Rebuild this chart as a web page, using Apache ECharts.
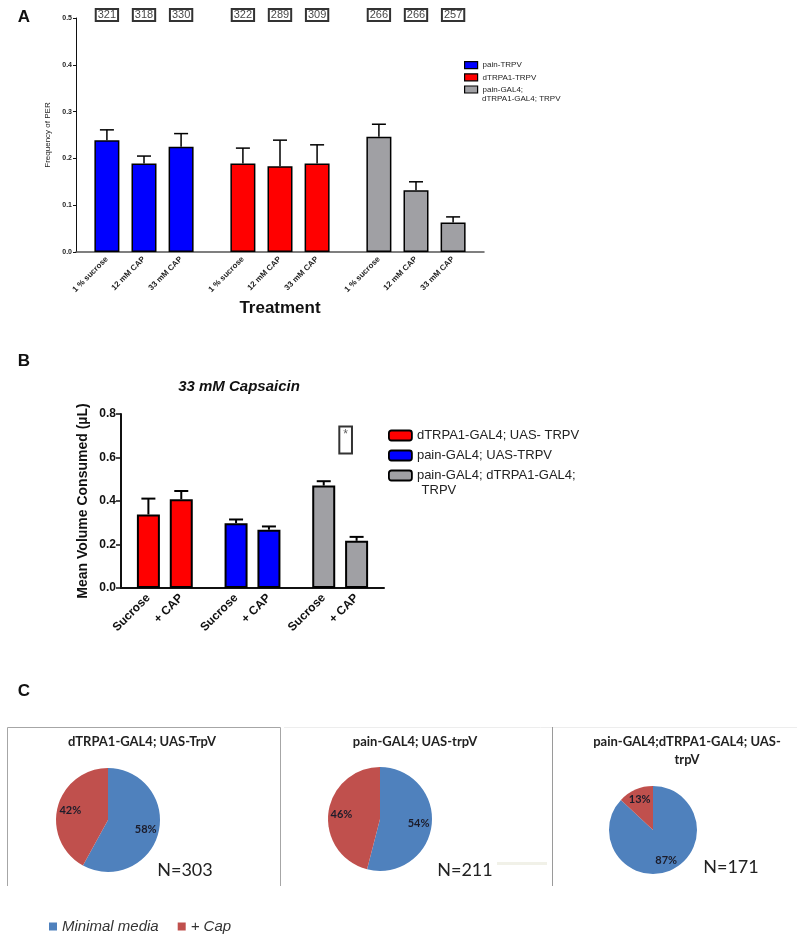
<!DOCTYPE html>
<html>
<head>
<meta charset="utf-8">
<script src="https://cdn.jsdelivr.net/npm/echarts@6/dist/echarts.min.js"></script>
<style>
html, body { margin: 0; padding: 0; background: #fff; }
#main { width: 797px; height: 936px; }
</style>
</head>
<body>
<div id="main"></div>
<script>
// A: frequency of PER per treatment
var perTreatments = ['1 % sucrose', '12 mM CAP', '33 mM CAP'];
var perGenotypes = ['pain-TRPV', 'dTRPA1-TRPV', 'pain-GAL4;\ndTRPA1-GAL4; TRPV'];
var perPain = [0.239, 0.189, 0.225];
var perPainUp = [0.261, 0.205, 0.253];
var perTrpa1 = [0.189, 0.183, 0.189];
var perTrpa1Up = [0.222, 0.239, 0.229];
var perDouble = [0.246, 0.132, 0.063];
var perDoubleUp = [0.273, 0.150, 0.075];
var perN = [321, 318, 330, 322, 289, 309, 266, 266, 257];
var perTicks = [0, 0.1, 0.2, 0.3, 0.4, 0.5];

// B: 33 mM capsaicin, mean volume consumed
var volFoods = ['Sucrose', '+ CAP'];
var volGenotypes = ['dTRPA1-GAL4; UAS- TRPV', 'pain-GAL4; UAS-TRPV', 'pain-GAL4; dTRPA1-GAL4;\n TRPV'];
var volTrpa1 = [0.338, 0.408];
var volTrpa1Up = [0.411, 0.446];
var volPain = [0.298, 0.268];
var volPainUp = [0.315, 0.283];
var volDouble = [0.471, 0.217];
var volDoubleUp = [0.491, 0.235];
var volTicks = [0, 0.2, 0.4, 0.6, 0.8];
var volSig = '*';

// C: choice pies
var pieNames = ['Minimal media', '+ Cap'];
var pieTitles = ['dTRPA1-GAL4; UAS-TrpV', 'pain-GAL4; UAS-trpV', 'pain-GAL4;dTRPA1-GAL4; UAS-\ntrpV'];
var pieMinimal = [58, 54, 87];
var pieCap = [42, 46, 13];
var pieN = [303, 211, 171];

var FONT = 'Liberation Sans';
var FONT_C = 'Lato';
var BLUE = '#0000ff', RED = '#ff0000', GRAY = '#a0a0a4';
var PIE_BLUE = '#4f81bd', PIE_RED = '#c0504d';

// category slots, empty ones keep the gaps between groups
function slotList(groups, perGroup, first, groupStep, barStep) {
	var out = [];
	for (var g = 0; g < groups; g++) {
		for (var b = 0; b < perGroup; b++) out.push(first + g * groupStep + b * barStep);
	}
	return out;
}
var slotsA = slotList(3, 3, 2, 11, 3);
var slotsB = slotList(3, 2, 2, 8, 3);

function categories(n, slots, names) {
	var cats = [];
	for (var i = 0; i < n; i++) cats.push('');
	slots.forEach(function(s, k) { cats[s] = names[k % names.length]; });
	return cats;
}
var catsA = categories(33, slotsA, perTreatments);
var catsB = categories(24, slotsB, volFoods);

function onSlot(slots) {
	return function(index) { return slots.indexOf(index) >= 0; };
}

function bars(name, color, values, slots, group, xi, width, border) {
	return {
		type: 'bar', name: name, xAxisIndex: xi, yAxisIndex: xi,
		barWidth: width, barGap: '-100%', z: 2,
		itemStyle: { color: color, borderColor: '#000', borderWidth: border },
		data: values.map(function(v, k) { return [slots[group * values.length + k], v]; })
	};
}

function errors(means, ups, slots, xi, lw, half) {
	var rows = [];
	means.forEach(function(m, k) { rows.push([slots[k], m, ups[k]]); });
	return {
		type: 'custom', xAxisIndex: xi, yAxisIndex: xi, z: 3, clip: false, silent: true,
		encode: { x: 0, y: [1, 2] },
		renderItem: function(params, api) {
			var base = api.coord([api.value(0), api.value(1)]);
			var top = api.coord([api.value(0), api.value(2)]);
			var st = { stroke: '#000', lineWidth: lw };
			return {
				type: 'group', children: [
					{ type: 'line', shape: { x1: base[0], y1: base[1], x2: top[0], y2: top[1] }, style: st },
					{ type: 'line', shape: { x1: top[0] - half, y1: top[1], x2: top[0] + half, y2: top[1] }, style: st }
				]
			};
		},
		data: rows
	};
}

// legend shows the first line; the wrapped rest sits under it like in the figure
function firstLine(name) { return name.split('\n')[0]; }

var myChart = echarts.init(document.getElementById('main'));

var pieCenters = [[108, 820], [380, 819], [653, 830]];
var pieRadius = [52, 52, 44];
var pieSeries = [], pieLabels = [];
pieMinimal.forEach(function(v, i) {
	var data = [
		{ name: pieNames[0], value: v, itemStyle: { color: PIE_BLUE } },
		{ name: pieNames[1], value: pieCap[i], itemStyle: { color: PIE_RED } }
	];
	pieSeries.push({
		type: 'pie', center: pieCenters[i], radius: pieRadius[i], startAngle: 90, clockwise: true,
		silent: true, label: { show: false }, labelLine: { show: false },
		itemStyle: { borderWidth: 0 }, data: data
	});
	pieLabels.push({
		type: 'pie', center: pieCenters[i], radius: [pieRadius[i] * 0.38, pieRadius[i]], startAngle: 90,
		silent: true, labelLine: { show: false },
		itemStyle: { color: 'rgba(0,0,0,0)', borderWidth: 0 },
		label: {
			show: true, position: 'inside', fontFamily: FONT_C, fontSize: 11, fontWeight: 'bold', color: '#1c1c2a',
			formatter: function(p) { return p.value + '%'; }
		},
		data: data.map(function(d) { return { name: d.name, value: d.value }; })
	});
});

var graphics = [
	{ type: 'text', x: 24, y: 17, style: { text: 'A', font: 'bold 17px "Liberation Sans"', fill: '#111', align: 'center', verticalAlign: 'middle' } },
	{ type: 'text', x: 24, y: 361, style: { text: 'B', font: 'bold 17px "Liberation Sans"', fill: '#111', align: 'center', verticalAlign: 'middle' } },
	{ type: 'text', x: 24, y: 691, style: { text: 'C', font: 'bold 17px "Liberation Sans"', fill: '#111', align: 'center', verticalAlign: 'middle' } },
	{ type: 'text', x: 239, y: 387, style: { text: '33 mM Capsaicin', font: 'italic bold 15px "Liberation Sans"', fill: '#111', align: 'center', verticalAlign: 'middle' } },
	{ type: 'text', x: 482, y: 99, style: { text: perGenotypes[2].split('\n')[1], font: '8px "Liberation Sans"', fill: '#222', verticalAlign: 'middle' } },
	{ type: 'text', x: 418, y: 490, style: { text: volGenotypes[2].split('\n')[1], font: '13px "Liberation Sans"', fill: '#222', verticalAlign: 'middle' } },
	// boxes round the pies
	{ type: 'polyline', shape: { points: [[7.5, 886], [7.5, 727.5], [280.5, 727.5], [280.5, 886]] }, style: { stroke: '#a6a6a6', lineWidth: 1, fill: null } },
	{ type: 'line', shape: { x1: 284, y1: 727.5, x2: 797, y2: 727.5 }, style: { stroke: '#ededed', lineWidth: 1 } },
	{ type: 'line', shape: { x1: 552.5, y1: 727, x2: 552.5, y2: 886 }, style: { stroke: '#9a9a9a', lineWidth: 1 } },
	{ type: 'rect', shape: { x: 497, y: 862, width: 50, height: 3 }, style: { fill: '#f1f1e8' } }
];
var titleX = [142, 415, 687], titleY = [742, 742, 751];
var nX = [185, 465, 731], nY = [870, 870, 867];
pieTitles.forEach(function(t, i) {
	graphics.push({ type: 'text', x: titleX[i], y: titleY[i], style: { text: t, font: 'bold 13px Lato', lineHeight: 18, fill: '#222', align: 'center', verticalAlign: 'middle' } });
	graphics.push({ type: 'text', x: nX[i], y: nY[i], style: { text: 'N=' + pieN[i], font: '18px Lato', fill: '#222', align: 'center', verticalAlign: 'middle' } });
});

var option = {
	animation: false,
	textStyle: { fontFamily: FONT, color: '#111' },
	grid: [
		{ left: 76, top: 18, width: 408, height: 234, outerBoundsMode: 'none' },
		{ left: 121, top: 414, width: 263, height: 174, outerBoundsMode: 'none' }
	],
	legend: [
		{
			data: perGenotypes, orient: 'vertical', left: 464, top: 61, padding: 0, selectedMode: false,
			itemWidth: 13, itemHeight: 7, itemGap: 4, icon: 'rect', formatter: firstLine,
			itemStyle: { borderColor: '#000', borderWidth: 1.2 },
			textStyle: { fontFamily: FONT, fontSize: 8, color: '#222' }
		},
		{
			data: volGenotypes, orient: 'vertical', left: 388, top: 428, padding: 0, selectedMode: false,
			itemWidth: 23, itemHeight: 10, itemGap: 5, icon: 'roundRect', formatter: firstLine,
			itemStyle: { borderColor: '#000', borderWidth: 1.8 },
			textStyle: { fontFamily: FONT, fontSize: 13, color: '#222', lineHeight: 15 }
		},
		{
			data: [
				{ name: pieNames[0], itemStyle: { color: PIE_BLUE } },
				{ name: pieNames[1], itemStyle: { color: PIE_RED } }
			],
			orient: 'horizontal', left: 44, top: 914, selectedMode: false,
			itemWidth: 8, itemHeight: 8, itemGap: 19, icon: 'rect',
			itemStyle: { borderWidth: 0 },
			textStyle: { fontFamily: FONT, fontSize: 15, fontStyle: 'italic', color: '#333' }
		}
	],
	xAxis: [
		{
			gridIndex: 0, type: 'category', data: catsA,
			axisLine: { lineStyle: { color: '#555', width: 1.5 } },
			axisTick: { alignWithLabel: true, interval: onSlot(slotsA), length: 3, lineStyle: { color: '#555' } },
			axisLabel: { interval: onSlot(slotsA), rotate: 45, fontSize: 8, fontWeight: 'bold', color: '#222', margin: 6 },
			name: 'Treatment', nameLocation: 'middle', nameGap: 48,
			nameTextStyle: { fontSize: 17, fontWeight: 'bold', color: '#111' }
		},
		{
			gridIndex: 1, type: 'category', data: catsB,
			axisLine: { lineStyle: { color: '#111', width: 2 } },
			axisTick: { alignWithLabel: true, interval: onSlot(slotsB), length: 5, lineStyle: { color: '#111', width: 1.5 } },
			axisLabel: { interval: onSlot(slotsB), rotate: 45, fontSize: 12, fontWeight: 'bold', color: '#111', margin: 8 }
		}
	],
	yAxis: [
		{
			gridIndex: 0, type: 'value', min: perTicks[0], max: perTicks[perTicks.length - 1], interval: perTicks[1] - perTicks[0],
			axisLine: { show: true, lineStyle: { color: '#111', width: 1 } },
			axisTick: { show: true, length: 3, lineStyle: { color: '#111' } },
			splitLine: { show: false },
			axisLabel: { fontSize: 7, fontWeight: 'bold', color: '#222', margin: 4, formatter: function(v) { return v.toFixed(1); } },
			name: 'Frequency of PER', nameLocation: 'middle', nameGap: 18,
			nameTextStyle: { fontSize: 8, color: '#222' }
		},
		{
			gridIndex: 1, type: 'value', min: volTicks[0], max: volTicks[volTicks.length - 1], interval: volTicks[1] - volTicks[0],
			axisLine: { show: true, lineStyle: { color: '#111', width: 2 } },
			axisTick: { show: true, length: 5, lineStyle: { color: '#111', width: 1.5 } },
			splitLine: { show: false },
			axisLabel: { fontSize: 12, fontWeight: 'bold', color: '#111', margin: 5, formatter: function(v) { return v.toFixed(1); } },
			name: 'Mean Volume Consumed (\u00b5L)', nameLocation: 'middle', nameGap: 31,
			nameTextStyle: { fontSize: 14, fontWeight: 'bold', color: '#111' }
		}
	],
	series: [
		bars(perGenotypes[0], BLUE, perPain, slotsA, 0, 0, 25, 1.5),
		bars(perGenotypes[1], RED, perTrpa1, slotsA, 1, 0, 25, 1.5),
		bars(perGenotypes[2], GRAY, perDouble, slotsA, 2, 0, 25, 1.5),
		errors(perPain.concat(perTrpa1, perDouble), perPainUp.concat(perTrpa1Up, perDoubleUp), slotsA, 0, 1.5, 7),
		{
			type: 'scatter', xAxisIndex: 0, yAxisIndex: 0, symbolSize: 1, clip: false, silent: true,
			itemStyle: { color: 'rgba(0,0,0,0)' },
			label: {
				show: true, position: 'inside', offset: [0, -3], fontSize: 11, color: '#111',
				borderColor: '#000', borderWidth: 2, padding: [1, 2, 0, 2],
				formatter: function(p) { return String(perN[p.dataIndex]); }
			},
			data: slotsA.map(function(s) { return [s, perTicks[perTicks.length - 1]]; })
		},
		bars(volGenotypes[0], RED, volTrpa1, slotsB, 0, 1, 23, 2),
		bars(volGenotypes[1], BLUE, volPain, slotsB, 1, 1, 23, 2),
		bars(volGenotypes[2], GRAY, volDouble, slotsB, 2, 1, 23, 2),
		errors(volTrpa1.concat(volPain, volDouble), volTrpa1Up.concat(volPainUp, volDoubleUp), slotsB, 1, 2, 7),
		{
			type: 'scatter', xAxisIndex: 1, yAxisIndex: 1, symbolSize: 1, clip: false, silent: true,
			itemStyle: { color: 'rgba(0,0,0,0)' },
			label: {
				show: true, position: 'inside', fontSize: 12, color: '#333', lineHeight: 11,
				borderColor: '#000', borderWidth: 2, padding: [4, 4, 1, 4],
				formatter: volSig + '\n '
			},
			data: [[20, 0.68]]
		}
	].concat(pieSeries, pieLabels),
	graphic: graphics
};
myChart.setOption(option);
</script>
</body>
</html>
